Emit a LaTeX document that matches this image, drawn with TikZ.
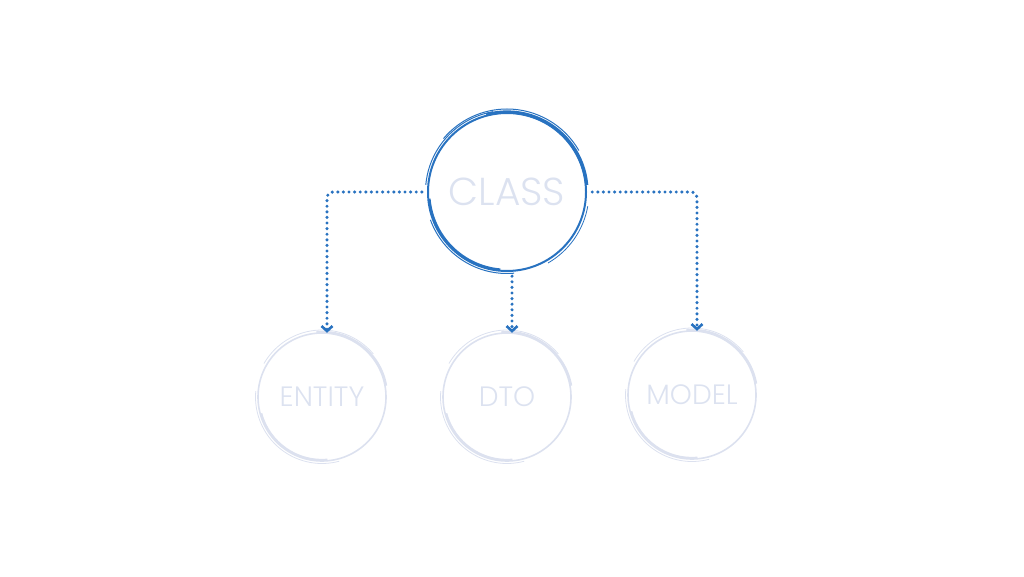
\documentclass[tikz,border=0pt]{standalone}
\usepackage{fontspec}
\setmainfont{Poppins Light}
\usetikzlibrary{arrows.meta}
\definecolor{cblue}{RGB}{40,114,192}
\definecolor{clight}{RGB}{220,225,239}
\definecolor{ctext}{RGB}{220,226,240}
\tikzset{
  bignode/.style={circle, minimum size=164pt, inner sep=0pt, text=ctext, font=\fontsize{39}{39}\selectfont},
  smallnode/.style={circle, minimum size=132pt, inner sep=0pt, text=ctext, font=\fontsize{28}{28}\selectfont},
  dotline/.style={cblue, line width=3.4pt, line cap=round, dash pattern=on 0pt off 5.6pt, rounded corners=6pt,
    -{Straight Barb[length=5pt,width=11pt,line width=2.6pt,line cap=butt]}},
  sketchb/.style={cblue},
  sketchl/.style={clight}
}
\begin{document}
\begin{tikzpicture}[x=1pt,y=1pt]
\useasboundingbox (0,0) rectangle (1024,576);
% nodes
\node[bignode] (class) at (507,384) {CLASS};
\node[smallnode] (entity) at (322,179) {ENTITY};
\node[smallnode] (dto) at (507,179) {DTO};
\node[smallnode] (model) at (692,181) {MODEL};
% sketchy big circle
\draw[sketchb, line width=2pt] (class.center) circle[radius=79];
\draw[sketchb, line width=3.2pt] (class.center) ++(5:80) arc[start angle=5, end angle=105, radius=80];
\draw[sketchb, line width=1pt] (class.center) ++(30:83) arc[start angle=30, end angle=140, radius=83];
\draw[sketchb, line width=1pt] (class.center) ++(100:81.5) arc[start angle=100, end angle=175, radius=81.5];
\draw[sketchb, line width=2.6pt] (class.center) ++(185:78) arc[start angle=185, end angle=265, radius=78];
\draw[sketchb, line width=1pt] (class.center) ++(200:81.5) arc[start angle=200, end angle=275, radius=81.5];
\draw[sketchb, line width=0.8pt] (class.center) ++(-60:82) arc[start angle=-60, end angle=-10, radius=82];
% sketchy small circles
\foreach \n in {entity,dto,model}{
  \draw[sketchl, line width=1.6pt] (\n.center) circle[radius=64];
  \draw[sketchl, line width=2.4pt] (\n.center) ++(10:65) arc[start angle=10, end angle=95, radius=65];
  \draw[sketchl, line width=0.8pt] (\n.center) ++(40:67) arc[start angle=40, end angle=150, radius=67];
  \draw[sketchl, line width=2.2pt] (\n.center) ++(195:63) arc[start angle=195, end angle=275, radius=63];
  \draw[sketchl, line width=0.8pt] (\n.center) ++(175:66.5) arc[start angle=175, end angle=285, radius=66.5];
}
% connectors
\draw[dotline, shorten <=3pt, shorten >=-2pt] (class.west) -| ([xshift=5pt]entity.north);
\draw[dotline, shorten <=3pt, shorten >=-2pt] (class.east) -| ([xshift=5pt]model.north);
\draw[dotline, shorten <=2pt, shorten >=-2pt] ([xshift=5pt]class.south) -- ([xshift=5pt]dto.north);
\end{tikzpicture}
\end{document}
